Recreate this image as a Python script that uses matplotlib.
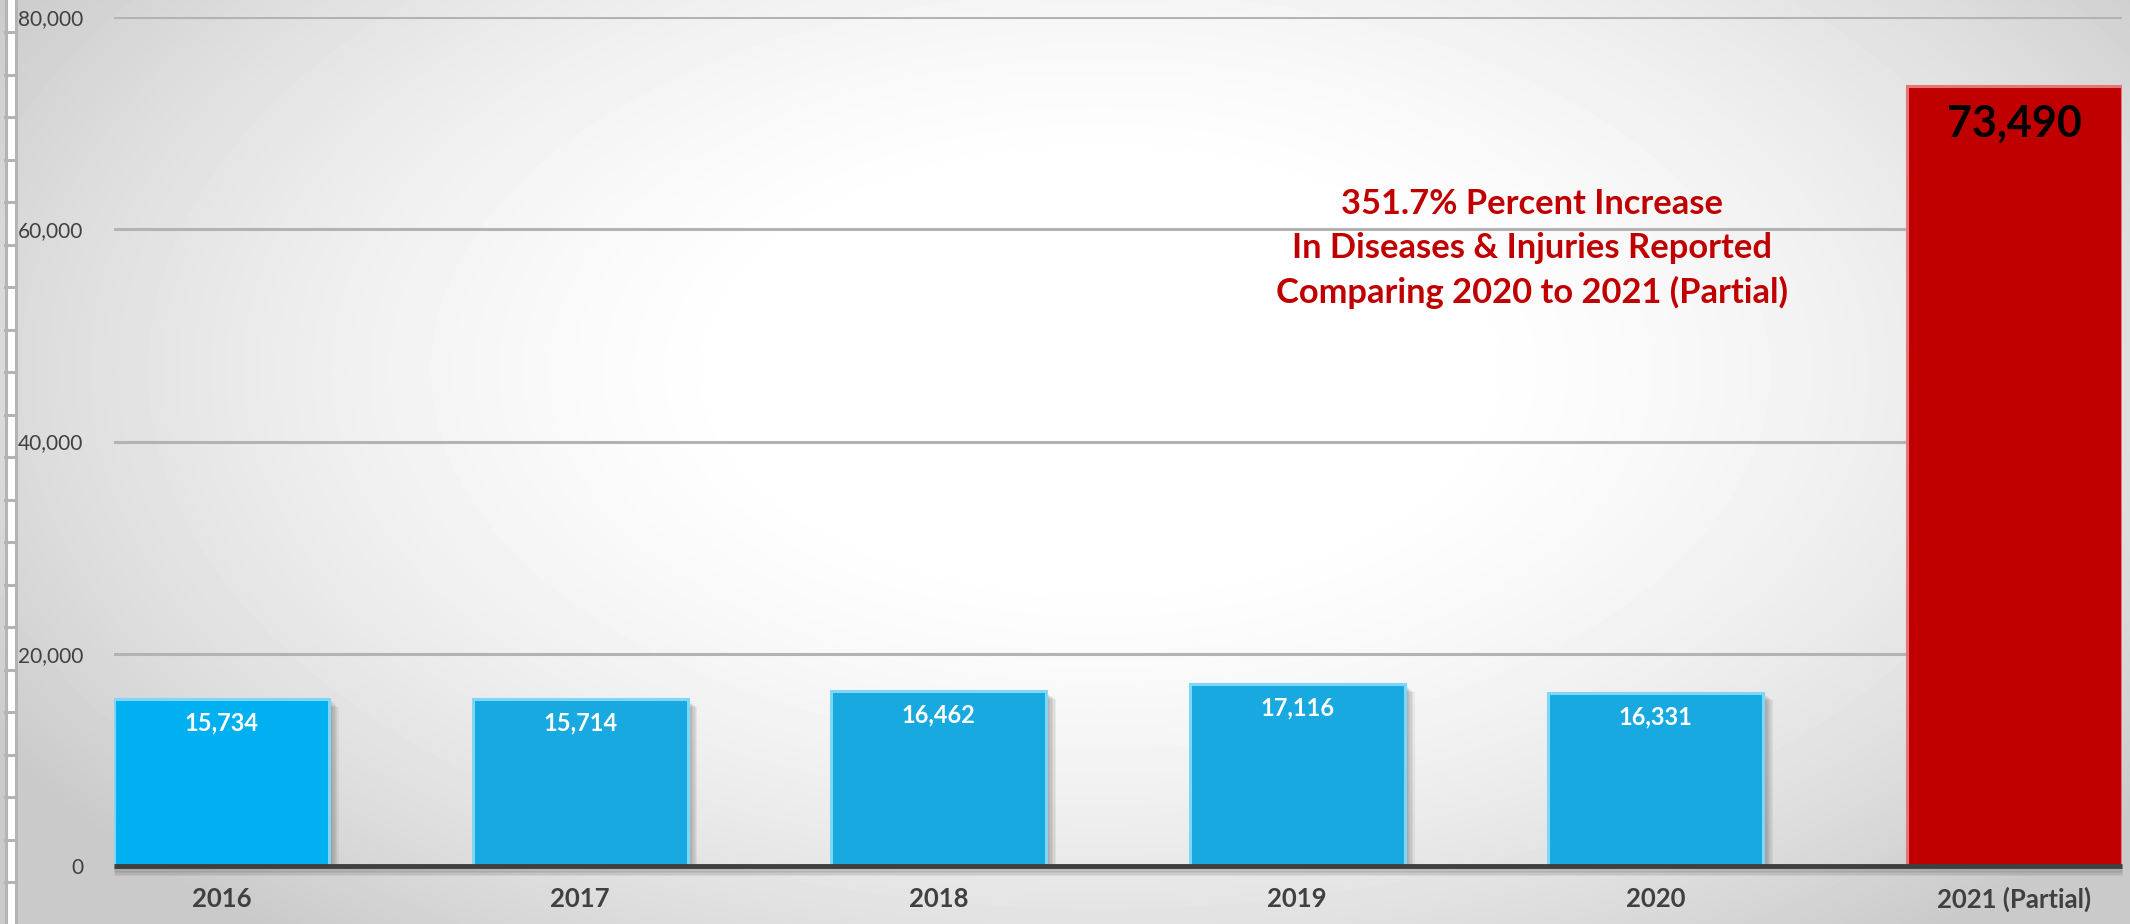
import numpy as np
import matplotlib
matplotlib.use("Agg")
import matplotlib.pyplot as plt
import matplotlib.patheffects as pe
from matplotlib.lines import Line2D

plt.rcParams['font.family'] = ['Lato', 'DejaVu Sans']

# reported counts per year
years = ['2016', '2017', '2018', '2019', '2020', '2021 (Partial)']
reports = [15734, 15714, 16462, 17116, 16331, 73490]
bar_colors = ['#00B0F0', '#17A9E0', '#17A9E0', '#17A9E0', '#17A9E0', '#C00000']
edge_colors = ['#7FD6F6', '#7FD6F6', '#7FD6F6', '#7FD6F6', '#7FD6F6', '#E67575']
yticks = [0, 20000, 40000, 60000, 80000]
note = "351.7% Percent Increase\nIn Diseases & Injuries Reported\nComparing 2020 to 2021 (Partial)"

W, H = 2130, 924
fig = plt.figure(figsize=(W / 100, H / 100), dpi=100)

# soft radial backdrop
bg = fig.add_axes([0, 0, 1, 1])
yy, xx = np.mgrid[0:H, 0:W]
r2 = ((xx - 1100) / 1150.0) ** 2 + ((yy - 370) / 650.0) ** 2
shade = np.clip(1 - 0.18 * np.clip(r2 - 0.1, 0, None), 0.79, 1)
bg.imshow(shade, cmap='gray', vmin=0, vmax=1, aspect='auto', extent=[0, W, H, 0])
bg.set_xlim(0, W)
bg.set_ylim(H, 0)
bg.axis('off')

# ruler strip on the left edge
bg.add_patch(plt.Rectangle((5, 0), 11, H, facecolor='white', edgecolor='none'))
bg.plot([5.5, 5.5], [0, H], color='#b4b4b4', lw=2.2)
bg.plot([15.5, 15.5], [0, H], color='#b4b4b4', lw=2.2)
for ty in np.arange(-10.5, H, 42.5):
    bg.plot([5, 16], [ty, ty], color='#b4b4b4', lw=2.2)

left, right, top, bottom = 114, 2122, 17, 866
ax = fig.add_axes([left / W, (H - bottom) / H, (right - left) / W, (bottom - top) / H])
ax.patch.set_alpha(0)

x = np.arange(len(years))
ax.set_xlim(-0.3, len(years) - 0.7)
ax.set_ylim(0, 80000)

for yv in yticks[1:]:
    ax.axhline(yv, color='#b3b3b3', lw=2.2, zorder=1)

# stacked faint shadows give a blurred drop shadow
soft = [pe.SimplePatchShadow(offset=(d, -d * 0.8), shadow_rgbFace='#404040', alpha=0.07)
        for d in range(1, 8)]

bars = ax.bar(x, reports, width=0.6, color=bar_colors, edgecolor=edge_colors,
              linewidth=2.2, zorder=3)
for b in bars:
    b.set_path_effects(soft + [pe.Normal()])

base = Line2D([0, 1], [0, 0], transform=ax.transAxes, color='#3f3f3f', lw=3.5,
              zorder=4, solid_capstyle='butt', clip_on=False)
base.set_path_effects([pe.SimpleLineShadow(offset=(0, -d), shadow_color='#555555', alpha=0.1)
                       for d in range(1, 6)] + [pe.Normal()])
ax.add_line(base)

# value labels inside the bars
for xi, v in zip(x, reports):
    label = f"{v:,}"
    if v > 50000:
        ax.annotate(label, (xi, v), xytext=(0, -38), textcoords='offset pixels',
                    ha='center', va='center', fontsize=31, fontweight='bold',
                    color='black', zorder=5)
    else:
        ax.annotate(label, (xi, v), xytext=(0, -24), textcoords='offset pixels',
                    ha='center', va='center', fontsize=17, fontweight='bold',
                    color='white', zorder=5)

ax.text(3.654, 58140, note, ha='center', va='center', fontsize=24.8, fontweight='bold',
        color='#C00000', linespacing=1.45, zorder=5)

ax.set_xticks(x)
ax.set_xticklabels(years, fontsize=18.5, fontweight='bold', color='#404040')
ax.set_yticks(yticks)
ax.set_yticklabels([f"{v:,}" for v in yticks], fontsize=15, color='#404040')
ax.tick_params(axis='x', length=0, pad=15)
ax.tick_params(axis='y', length=0, pad=22)
for s in ax.spines.values():
    s.set_visible(False)

fig.savefig('out.png', dpi=100)
